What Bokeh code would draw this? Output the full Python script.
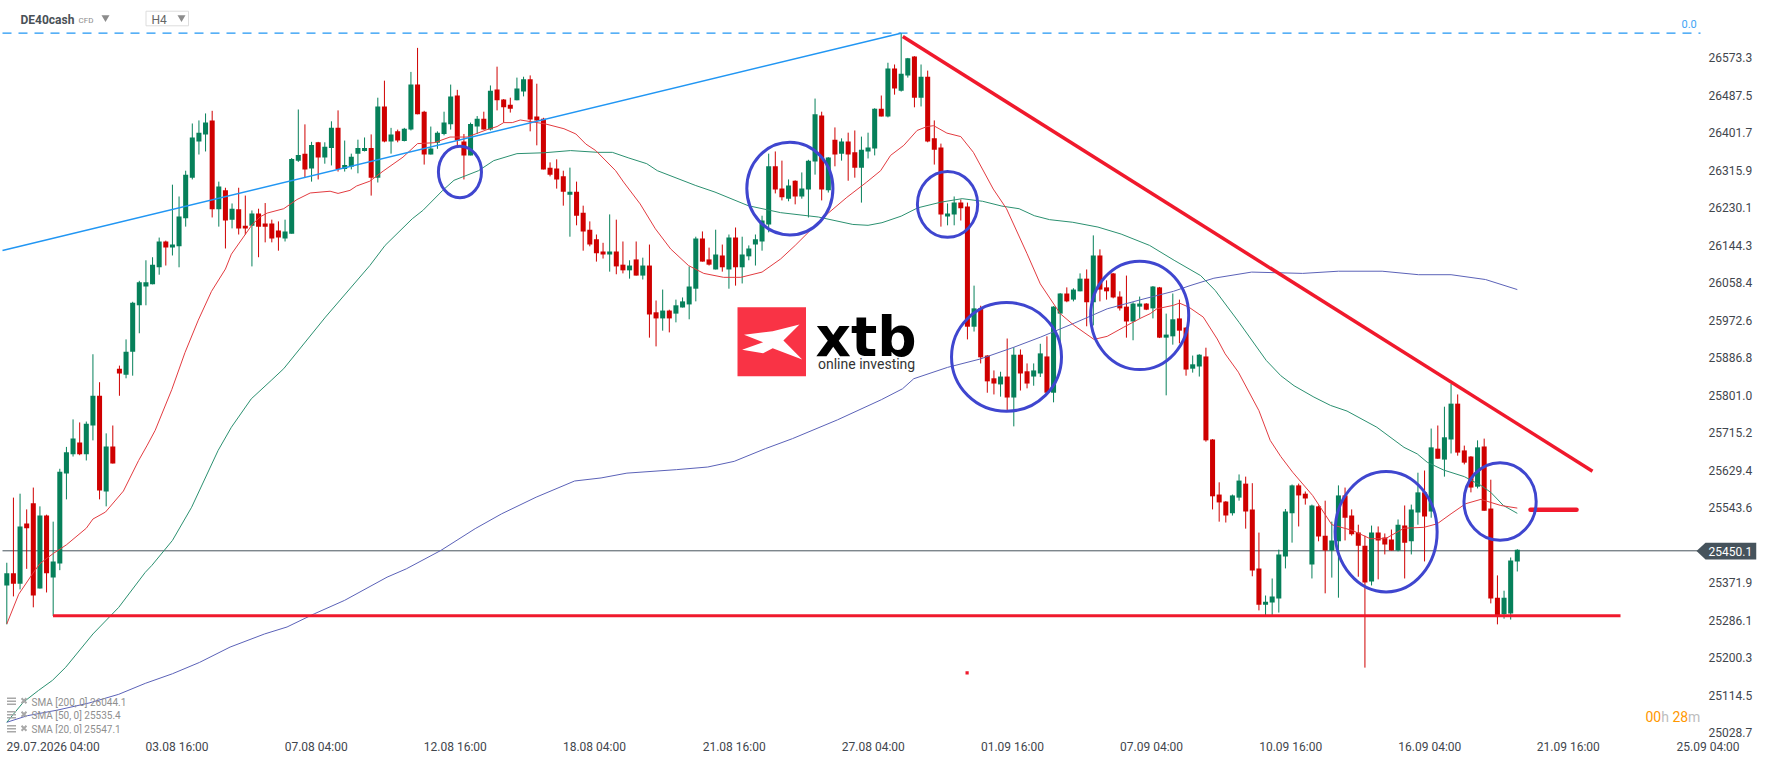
from bokeh.core.properties import value
from bokeh.embed import file_html
from bokeh.models import ColumnDataSource, FixedTicker, NumeralTickFormatter, Range1d
from bokeh.plotting import figure
from bokeh.resources import INLINE

opens = [25366,25394,25370,25508,25554,25359,25526,25384,25416,25622,25666,25693,25666,25732,25800,25581,25684,25862,25848,25901,
26007,26050,26055,26094,26153,26139,26142,26206,26299,26382,26398,26430,26227,26270,26203,26227,26189,26189,26217,26194,
26194,26178,26160,26171,26338,26354,26320,26380,26345,26367,26413,26319,26324,26354,26360,26367,26299,26462,26382,26405,
26383,26409,26512,26450,26352,26379,26399,26421,26487,26382,26350,26416,26434,26409,26501,26478,26466,26476,26496,26524,
26439,26434,26322,26320,26302,26260,26267,26219,26180,26158,26130,26123,26130,26100,26087,26112,26075,26098,25991,25977,
25995,25988,26002,26009,26045,26160,26112,26089,26121,26089,26162,26094,26119,26146,26153,26192,26325,26274,26251,26292,
26256,26272,26336,26441,26270,26386,26354,26382,26357,26322,26359,26366,26457,26439,26549,26498,26533,26576,26482,26530,
26389,26368,26210,26215,26242,26233,25958,26000,25892,25840,25826,25844,25796,25894,25856,25844,25851,25890,25807,25988,
26034,26020,26039,26068,26014,26121,26048,26080,26027,26004,25970,26004,26011,26000,26048,25933,25936,25977,25956,25862,
25867,25890,25700,25574,25558,25531,25567,25599,25540,25405,25322,25327,25336,25432,25531,25595,25576,25414,25547,25480,
25446,25467,25572,25526,25487,25457,25375,25487,25476,25471,25446,25503,25467,25533,25579,25535,25679,25654,25700,25782,
25675,25661,25592,25684,25542,25338,25300,25302,25421]
highs = [25418,25567,25576,25540,25590,25547,25528,25512,25633,25683,25746,25739,25741,25895,25831,25714,25732,25869,25929,26015,
26063,26110,26117,26162,26155,26283,26256,26315,26423,26430,26446,26452,26290,26276,26240,26276,26258,26224,26228,26241,
26203,26199,26203,26344,26455,26421,26381,26381,26380,26428,26453,26384,26354,26386,26391,26398,26482,26521,26413,26409,
26413,26541,26596,26452,26416,26405,26450,26512,26500,26399,26425,26440,26450,26510,26553,26479,26482,26528,26530,26533,
26514,26436,26334,26341,26315,26322,26290,26235,26199,26169,26150,26215,26203,26153,26110,26153,26116,26146,26018,26043,
25997,26020,26025,26096,26164,26176,26139,26180,26146,26169,26185,26164,26144,26169,26212,26354,26359,26338,26295,26293,
26311,26340,26480,26450,26346,26414,26389,26402,26407,26393,26402,26458,26487,26562,26558,26629,26573,26577,26558,26544,
26430,26377,26240,26256,26249,26242,26052,26006,25893,25858,25855,25931,25911,25906,25874,25874,25919,25936,26005,26035,
26048,26046,26080,26089,26167,26135,26064,26081,26039,26075,26014,26027,26012,26051,26049,25988,26034,26020,25957,25892,
25895,25910,25701,25602,25559,25574,25620,25615,25600,25487,25343,25382,25448,25541,25597,25599,25581,25551,25549,25560,
25512,25595,25590,25540,25505,25480,25503,25501,25485,25494,25517,25549,25551,25624,25629,25725,25732,25775,25827,25803,
25686,25662,25698,25702,25608,25389,25354,25430,25449]
lows = [25277,25341,25357,25404,25316,25359,25350,25296,25401,25563,25661,25664,25652,25698,25563,25547,25645,25800,25840,25846,
25943,26007,26055,26077,26098,26121,26094,26187,26295,26352,26359,26208,26187,26137,26183,26169,26169,26096,26117,26151,
26151,26132,26153,26171,26335,26299,26290,26295,26331,26327,26313,26313,26318,26309,26359,26258,26288,26380,26354,26380,
26382,26407,26444,26329,26352,26365,26396,26409,26367,26295,26350,26399,26409,26407,26453,26425,26448,26476,26485,26405,
26373,26318,26302,26274,26235,26164,26190,26132,26142,26107,26114,26084,26078,26080,26068,26075,26066,25933,25913,25949,
25945,25968,26002,25975,26016,26107,26098,26089,26084,26045,26052,26057,26110,26098,26132,26174,26263,26247,26245,26238,
26251,26208,26306,26247,26265,26325,26338,26292,26299,26242,26343,26350,26439,26437,26489,26496,26528,26460,26462,26380,
26329,26187,26190,26190,26201,25929,25947,25874,25807,25803,25798,25764,25730,25812,25817,25823,25843,25807,25785,25919,
26014,26016,26039,25959,25961,26016,26020,26023,25995,25933,25927,25977,25996,25977,25932,25801,25917,25920,25846,25853,
25844,25695,25540,25512,25510,25526,25560,25496,25387,25309,25297,25297,25304,25405,25464,25501,25551,25382,25467,25348,
25384,25338,25469,25480,25386,25178,25366,25380,25437,25446,25444,25382,25437,25505,25421,25521,25656,25615,25668,25663,
25643,25579,25588,25537,25325,25277,25290,25288,25398]
closes = [25394,25370,25501,25497,25343,25526,25394,25421,25626,25671,25702,25666,25736,25800,25583,25684,25645,25851,25901,26013,
26060,26060,26100,26153,26139,26146,26210,26306,26391,26402,26425,26227,26279,26201,26228,26183,26183,26217,26187,26187,
26160,26162,26176,26342,26351,26318,26374,26345,26370,26413,26319,26328,26347,26367,26367,26299,26462,26382,26398,26384,
26411,26512,26444,26352,26366,26402,26425,26485,26384,26350,26422,26434,26409,26498,26476,26460,26457,26503,26524,26432,
26430,26318,26306,26295,26267,26267,26212,26176,26146,26126,26123,26130,26096,26087,26098,26075,26098,25986,25977,25995,
25977,26007,26016,26050,26160,26107,26100,26123,26094,26162,26094,26123,26137,26158,26201,26325,26272,26254,26281,26256,
26274,26338,26444,26272,26345,26352,26382,26352,26322,26363,26368,26457,26439,26549,26503,26537,26572,26482,26530,26382,
26363,26215,26217,26242,26229,25958,26000,25888,25833,25828,25844,25796,25894,25851,25828,25858,25897,25807,26004,26034,
26016,26043,26068,26014,26121,26043,26039,26025,26000,25970,26011,26011,25997,26050,25933,25940,25975,25949,25860,25872,
25894,25698,25570,25556,25526,25572,25606,25535,25400,25322,25329,25341,25437,25535,25595,25572,25565,25549,25478,25446,
25469,25572,25521,25483,25457,25373,25487,25469,25460,25446,25505,25464,25540,25579,25524,25682,25656,25705,25782,25670,
25647,25590,25682,25537,25336,25297,25338,25423,25448]

sma20_x = [0,1.8,3.9,5,7,9,12,13,14.9,17.6,19.9,21.2,22.4,24.9,26.9,28.9,30.9,33,33.9,37.1,38.3,39.3,41.8,43.8,45.8,48.8,50,51.8,52.8,54.8,56.8,59.8,62,64.5,66.9,69.5,72.5,74,75,76.3,77.5,81.3,84.1,85.9,87.4,88.9,91.9,93.1,95.6,97.9,100.2,102.9,105.2,108.2,110.8,114,116.8,119,123.3,126.8,129.8,131.9,133.4,135.4,137.4,138.9,139.9,141.9,144,145.9,148.9,150.9,154,156,159,161.1,164.1,166.1,168.6,171.2,172.6,173.6,176.1,177,178.4,180.6,182.7,183.9,185.9,189,190.7,192.3,194.1,197.1,200,203.1,205.8,208.1,210.9,213.9,215.9,218,220.2,222.5,225.5,228]
sma20_y = [25278,25346,25393,25416,25439,25459,25497,25518,25534,25582,25652,25687,25721,25814,25899,25973,26039,26090,26124,26193,26210,26218,26228,26249,26264,26268,26263,26270,26280,26291,26314,26346,26377,26379,26392,26392,26409,26416,26425,26425,26431,26422,26411,26399,26376,26361,26315,26289,26239,26182,26136,26098,26080,26071,26071,26083,26113,26144,26209,26254,26289,26315,26350,26373,26407,26416,26418,26401,26393,26357,26273,26228,26125,26056,25988,25961,25929,25936,25957,25978,25988,25999,26007,26012,26003,25980,25930,25896,25854,25766,25698,25661,25625,25572,25505,25492,25473,25473,25497,25499,25507,25530,25553,25563,25549,25543]
sma50_x = [0,2.5,4.8,6.9,8.9,13,16.9,20.9,21.9,25,27.9,31.9,33.9,36.9,39.9,41.8,48.1,54.8,57.1,61.2,62.8,65.8,67.5,71.2,73.5,77,81.1,85.1,89.2,91.4,93.9,96.6,98.2,104,106.9,111.9,116.8,122.5,127.7,130,132.1,135,137.5,141,144.2,147.3,150.2,152.8,155.1,157.4,160.9,164.7,168.2,172.5,176.2,180.2,182.4,186,190.1,192.3,194.3,197.3,199.8,202.3,206.8,210.9,212.9,214.4,216.9,220,222.5,224,225.9,228]
sma50_y = [25053,25099,25126,25149,25179,25255,25316,25396,25412,25469,25545,25675,25728,25793,25835,25862,25980,26098,26144,26205,26224,26270,26293,26315,26338,26354,26356,26361,26357,26357,26344,26331,26315,26281,26266,26235,26219,26209,26192,26190,26196,26211,26230,26243,26251,26245,26234,26228,26212,26203,26197,26186,26170,26144,26110,26075,26041,25968,25881,25846,25823,25797,25778,25765,25728,25682,25667,25648,25630,25615,25595,25579,25549,25531]
sma200_x = [0,3.1,7.7,12.4,16.9,20.9,25,29.1,33.7,38.9,42.3,46.4,51,57.4,60.3,65.5,70.7,74.7,79.9,85.7,89.7,93.6,101.1,105.8,109.8,114.5,118.6,125.4,132,135.2,136.9,142,146.9,152,156,161.1,166.1,171.2,176.1,178.6,182.2,187.9,195.6,201,207.6,213.1,218,223.2,228]
sma200_y = [25053,25068,25081,25097,25117,25142,25164,25190,25225,25255,25271,25301,25332,25385,25404,25446,25496,25530,25568,25605,25612,25623,25631,25637,25650,25679,25702,25745,25791,25816,25839,25865,25884,25911,25934,25966,25999,26020,26039,26052,26069,26083,26080,26085,26085,26077,26077,26066,26043]

price_ticks = [26573.3,26487.5,26401.7,26315.9,26230.1,26144.3,26058.4,25972.6,25886.8,25801.0,25715.2,25629.4,25543.6,25371.9,25286.1,25200.3,25114.5,25028.7]
date_ticks = [7,25.7,46.7,67.7,88.7,109.8,130.8,151.8,172.8,193.8,214.8,235.7,256.8]
date_labels = ["29.07.2026 04:00","03.08 16:00","07.08 04:00","12.08 16:00","18.08 04:00","21.08 16:00","27.08 04:00","01.09 16:00","07.09 04:00","10.09 16:00","16.09 04:00","21.09 16:00","25.09 04:00"]

# drawn circles
circle_x = [68.4,118.2,142,150.9,171,208.2,225.4]
circle_y = [26312,26274,26238,25889,25984,25489,25558]
circle_w = [6.5,13,9.1,16.6,14.8,15.4,10.9]
circle_h = [118,212,151,249,248,276,178]

GREEN = "#06805a"
RED = "#cf0000"
LINE_RED = "#f0192c"
BLUE = "#2196f3"
CIRCLE = "#3f46cf"
TEXT = "#3f464d"


def px_x(x):
    return (x - 6.3) / 6.625


def px_y(y):
    return 26704.4 - 2.288 * y


def label(x, y, text, color=TEXT, size=12, font="Roboto", style="normal"):
    p.text([px_x(x)], [px_y(y)], text=[text], text_color=color, text_font=value(font), text_font_size=f"{size}px",
           text_font_style=style, text_align="left", text_baseline="middle")


idx = list(range(len(closes)))
colors = [GREEN if c >= o else RED for o, c in zip(opens, closes)]
source = ColumnDataSource(dict(x=idx, low=lows, high=highs,
                               top=[max(o, c) for o, c in zip(opens, closes)],
                               bottom=[min(o, c) for o, c in zip(opens, closes)],
                               color=colors))

p = figure(width=1768, height=761, output_backend="svg", toolbar_location=None,
           x_range=Range1d(px_x(0), px_x(1756)), y_range=Range1d(px_y(733), px_y(0)),
           min_border_left=0, min_border_top=0, min_border_right=12, min_border_bottom=28,
           y_axis_location="right", outline_line_color=None, background_fill_color="white")
p.grid.visible = False

for ax in (p.xaxis[0], p.yaxis[0]):
    ax.axis_line_color = None
    ax.major_tick_line_color = None
    ax.minor_tick_line_color = None
    ax.major_tick_out = 0
    ax.major_tick_in = 0
    ax.minor_tick_out = 0
    ax.major_label_text_font = "Roboto"
    ax.major_label_text_font_size = "12px"
    ax.major_label_text_color = TEXT
p.xaxis.ticker = FixedTicker(ticks=date_ticks)
p.xaxis.major_label_overrides = dict(zip(date_ticks, date_labels))
p.xaxis.major_label_standoff = 6
p.yaxis.ticker = FixedTicker(ticks=price_ticks)
p.yaxis.formatter = NumeralTickFormatter(format="0.0")
# labels sit inside the frame so the price badge can be drawn next to them
p.yaxis.major_label_standoff = -48

# logo
p.quad(left=[px_x(737)], right=[px_x(805.5)], top=[px_y(306.7)], bottom=[px_y(375.7)], fill_color="#f93345", line_color=None)
logo_px = [(743.5, 334.3), (772.2, 330.7), (799, 324), (782.9, 340), (801.7, 359), (772.2, 347.7), (762.6, 352.7), (741.6, 349.3), (762.6, 341.7)]
p.patch([px_x(a) for a, b in logo_px], [px_y(b) for a, b in logo_px], fill_color="white", line_color=None)
label(815, 336, "xtb", color="black", size=55, font="DejaVu Sans", style="bold")
label(817.5, 363.5, "online investing", color="#333333", size=14)

# levels
p.segment(x0=[px_x(2)], y0=[px_y(550.3)], x1=[px_x(1700)], y1=[px_y(550.3)], line_color="#46535c", line_width=1)
p.segment(x0=[px_x(2)], y0=[px_y(32.7)], x1=[px_x(1700)], y1=[px_y(32.7)], line_color=BLUE, line_width=1.2, line_dash="9 7")

# candles
p.segment(x0="x", y0="low", x1="x", y1="high", line_color="color", line_width=1, source=source)
p.vbar(x="x", width=0.76, top="top", bottom="bottom", fill_color="color", line_color=None, source=source)

# moving averages
p.line(sma200_x, sma200_y, line_color="#5b62b8", line_width=1)
p.line(sma50_x, sma50_y, line_color="#2b9070", line_width=1)
p.line(sma20_x, sma20_y, line_color="#e23b40", line_width=1)

# drawings
p.line([px_x(2), px_x(900.4)], [px_y(250), px_y(32.7)], line_color=BLUE, line_width=1.4)
p.line([px_x(52.5), px_x(1620)], [px_y(615.3), px_y(615.3)], line_color=LINE_RED, line_width=3)
p.line([px_x(902.3), px_x(1592)], [px_y(36), px_y(470.7)], line_color=LINE_RED, line_width=3.5)
p.line([px_x(1530), px_x(1576)], [px_y(509.3), px_y(509.3)], line_color=LINE_RED, line_width=4.5, line_cap="round")
p.quad(left=[px_x(965)], right=[px_x(968.2)], top=[px_y(670.7)], bottom=[px_y(673.9)], fill_color=LINE_RED, line_color=None)
p.ellipse(circle_x, circle_y, width=circle_w, height=circle_h, fill_color=None, line_color=CIRCLE, line_width=3)

# header
label(20, 19, "DE40cash", size=12, style="bold", color="#4a5157")
label(78, 19.5, "CFD", size=8, color="#8c8c8c")
p.scatter([px_x(105)], [px_y(17)], marker="inverted_triangle", size=8, fill_color="#8c8c8c", line_color=None)
p.quad(left=[px_x(145.5)], right=[px_x(188)], top=[px_y(10.7)], bottom=[px_y(25.3)], fill_color=None, line_color="#dddddd", line_width=1)
label(151, 19.5, "H4", color="#666666")
p.scatter([px_x(181)], [px_y(17)], marker="inverted_triangle", size=8, fill_color="#8c8c8c", line_color=None)
label(1681, 23.3, "0.0", size=11, color="#42a5f5")

# indicator list
legend_y = [701.7, 715.3, 729.3]
legend_text = ["SMA [200, 0] 26044.1", "SMA [50, 0] 25535.4", "SMA [20, 0] 25547.1"]
for ly, lt in zip(legend_y, legend_text):
    label(31, ly, lt, size=10, color="#8f8f8f")
    for off in (-4, -1, 2):
        p.segment(x0=[px_x(6.5)], y0=[px_y(ly + off)], x1=[px_x(15.5)], y1=[px_y(ly + off)], line_color="#a8a8a8", line_width=1.5)
    p.scatter([px_x(23.5)], [px_y(ly - 1.5)], marker="x", size=7, line_color="#a8a8a8", line_width=2)

# countdown
label(1645, 716, "00", color="#ff9800", size=14)
label(1660.7, 716, "h", color="#bdbdbd", size=14)
label(1672, 716, "28", color="#ff9800", size=14)
label(1687.6, 716, "m", color="#bdbdbd", size=14)

# last price badge
badge_px = [(1696, 550.6), (1705, 542.3), (1756, 542.3), (1756, 559), (1705, 559)]
p.patch([px_x(a) for a, b in badge_px], [px_y(b) for a, b in badge_px], fill_color="#46535c", line_color=None)
label(1708, 551, "25450.1", color="white")

open("out.html", "w").write(file_html(p, INLINE))
